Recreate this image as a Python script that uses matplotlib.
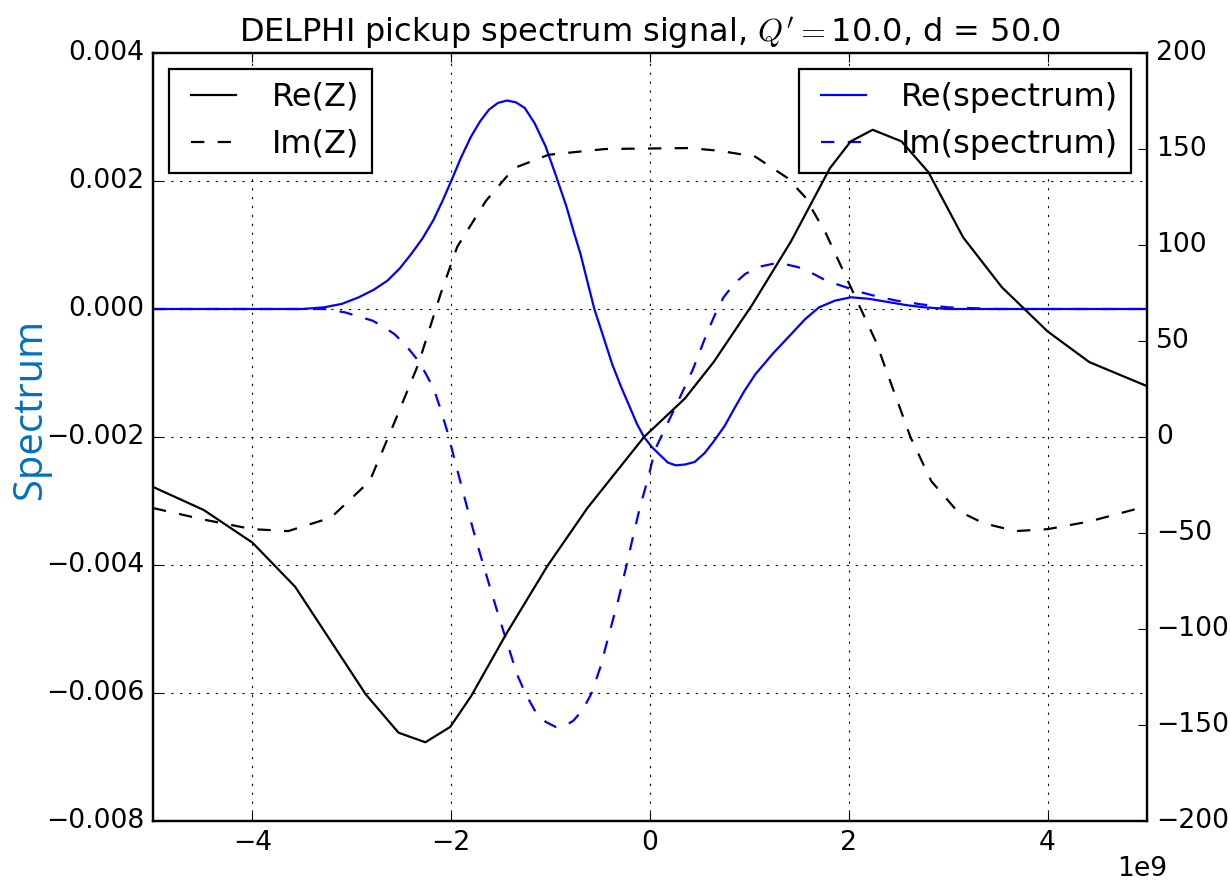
import matplotlib
matplotlib.use("Agg")
import matplotlib.pyplot as plt
import numpy as np

# ---- data (x in units of 1e9) ----
reZ_x = [-5.0, -4.49, -4.0, -3.57, -2.86, -2.53, -2.26, -2.01, -1.80, -1.44, -1.03, -0.63,
         -0.06, 0.35, 0.64, 1.03, 1.42, 1.81, 2.02, 2.24, 2.53, 2.80, 3.15, 3.54, 4.0, 4.42, 5.0]
reZ_y = [-26, -38, -55, -78, -134, -154, -159, -151, -135, -102, -67, -37,
         0, 20, 39, 69, 102, 140, 154, 160, 154, 138, 104, 78, 55, 39, 26.5]

imZ_x = [-5.0, -4.49, -4.0, -3.64, -3.21, -2.82, -2.6, -2.33, -2.11, -1.94, -1.65, -1.37,
         -1.02, -0.45, 0.4, 0.71, 1.06, 1.38, 1.56, 1.77, 2.02, 2.27, 2.62, 2.83, 3.08,
         3.36, 3.68, 4.0, 4.42, 5.0]
imZ_y = [-37, -43, -48, -49, -42, -23, 4, 38, 74, 99, 123, 140,
         147, 150, 150.5, 149, 146, 135, 125, 106, 78, 50, 0, -23, -38,
         -45, -49, -48, -44, -36]

reS_x = [-5.0, -4.0, -3.5, -3.28, -3.1, -2.93, -2.78, -2.64, -2.52, -2.40, -2.29, -2.18,
         -2.09, -2.0, -1.9, -1.80, -1.71, -1.62, -1.53, -1.44, -1.35, -1.26, -1.16, -1.05,
         -0.95, -0.84, -0.77, -0.70, -0.63, -0.56, -0.47, -0.38, -0.29, -0.20, -0.13, -0.06,
         0.02, 0.10, 0.18, 0.26, 0.35, 0.45, 0.55, 0.64, 0.75, 0.85, 0.95, 1.06, 1.24,
         1.42, 1.56, 1.70, 1.86, 2.02, 2.2, 2.41, 2.58, 2.76, 3.0, 4.0, 5.0]
reS_y = [0.0, 0.0, 0.0, 0.026, 0.08, 0.183, 0.3, 0.445, 0.63, 0.864, 1.1, 1.387,
         1.68, 2.0, 2.37, 2.696, 2.93, 3.115, 3.22, 3.257, 3.23, 3.141, 2.9, 2.539,
         2.1, 1.597, 1.22, 0.864, 0.43, 0.0, -0.43, -0.864, -1.22, -1.545, -1.8, -2.0,
         -2.16, -2.28, -2.4, -2.443, -2.43, -2.39, -2.25, -2.07, -1.83, -1.55, -1.28, -1.02, -0.69,
         -0.393, -0.16, 0.026, 0.13, 0.183, 0.16, 0.105, 0.06, 0.026, 0.0, 0.0, 0.0]

imS_x = [-5.0, -4.0, -3.5, -3.28, -3.07, -2.79, -2.68, -2.57, -2.45, -2.33, -2.26, -2.18,
         -2.11, -2.04, -1.95, -1.85, -1.77, -1.69, -1.6, -1.51, -1.42, -1.34, -1.25, -1.16,
         -1.05, -0.95, -0.86, -0.77, -0.68, -0.59, -0.5, -0.41, -0.32, -0.24, -0.17, -0.10,
         -0.02, 0.05, 0.15, 0.25, 0.34, 0.43, 0.5, 0.57, 0.65, 0.74, 0.85, 0.96, 1.1, 1.24,
         1.36, 1.49, 1.63, 1.77, 1.95, 2.12, 2.3, 2.48, 2.74, 3.0, 3.5, 4.0, 5.0]
imS_y = [0.0, 0.0, 0.0, 0.0, -0.052, -0.183, -0.28, -0.393, -0.58, -0.812, -1.0, -1.23,
         -1.55, -1.91, -2.45, -3.04, -3.5, -3.93, -4.4, -4.86, -5.3, -5.70, -6.02, -6.27,
         -6.45, -6.53, -6.52, -6.43, -6.27, -6.01, -5.6, -5.07, -4.55, -4.03, -3.55, -3.09,
         -2.65, -2.2, -1.87, -1.55, -1.25, -0.95, -0.67, -0.39, -0.1, 0.183, 0.4, 0.55, 0.66, 0.707,
         0.70, 0.654, 0.56, 0.445, 0.35, 0.262, 0.19, 0.131, 0.07, 0.026, 0.0, 0.0, 0.0]

title = r"DELPHI pickup spectrum signal, $Q'=$10.0, d = 50.0"

plt.style.use('classic')
plt.rcParams['figure.facecolor'] = 'white'
plt.rcParams['savefig.facecolor'] = 'white'

W, H, DPI = 1230, 885, 160
fig = plt.figure(figsize=(W / DPI, H / DPI), dpi=DPI)
ax = fig.add_axes([153 / W, 64 / H, 994 / W, 768 / H])

ax.plot(np.array(reS_x) * 1e9, np.array(reS_y) * 1e-3, 'b-', label='Re(spectrum)')
ax.plot(np.array(imS_x) * 1e9, np.array(imS_y) * 1e-3, 'b--', label='Im(spectrum)')
ax.set_xlim(-5e9, 5e9)
ax.set_ylim(-0.008, 0.004)
ax.grid(True)
ax.legend(loc='upper right')
ax.set_title(title)
ax.xaxis.get_offset_text().set_visible(False)

ax2 = ax.twinx()
ax2.plot(np.array(reZ_x) * 1e9, reZ_y, 'k-', label='Re(Z)')
ax2.plot(np.array(imZ_x) * 1e9, imZ_y, 'k--', label='Im(Z)')
ax2.set_ylim(-200, 200)
ax2.set_xlim(-5e9, 5e9)
ax2.legend(loc='upper left')
ax2.xaxis.get_offset_text().set_visible(False)

fig.text(1142 / W, 1 - 869 / H, '1e9', fontsize=12, ha='center', va='center')
fig.text(31 / W, 1 - 409 / H, 'Spectrum', rotation=90, color='#0070C0',
         fontsize=18, family='Open Sans', ha='center', va='center')

fig.savefig('out.png', dpi=DPI)
